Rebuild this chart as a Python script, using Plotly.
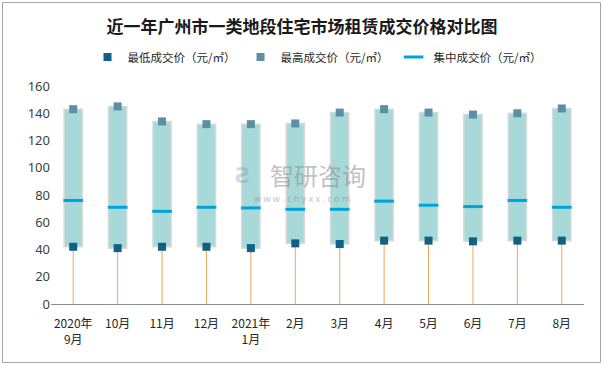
import plotly.graph_objects as go

categories = ["2020年<br>9月", "10月", "11月", "12月", "2021年<br>1月", "2月", "3月", "4月", "5月", "6月", "7月", "8月"]
low_prices = [42, 41, 42, 42, 41, 44.5, 44, 46.5, 46.5, 46, 46.5, 46.5]
high_prices = [143, 145, 134, 132, 132, 132.5, 140.5, 143, 140.5, 139, 140, 143.5]
mid_prices = [76, 71, 68, 71, 70.5, 69.5, 69.5, 75.5, 72.5, 71.5, 76, 71]

W, H = 604, 366
L, R, T, B = 51, 20, 86, 62
pw, ph = W - L - R, H - T - B

fig = go.Figure()

# drop lines from 0 to low
dx, dy = [], []
for c, lo in zip(categories, low_prices):
    dx += [c, c, None]
    dy += [0, lo, None]
fig.add_trace(go.Scatter(x=dx, y=dy, mode="lines", line=dict(color="#F4A460", width=1),
                         showlegend=False, hoverinfo="skip"))

# range boxes
fig.add_trace(go.Bar(x=categories, y=[h - l for h, l in zip(high_prices, low_prices)], base=low_prices,
                     width=0.41, marker=dict(color="#A6D9D7", line=dict(color="#D9D9D9", width=1.5)),
                     showlegend=False, hoverinfo="skip"))

fig.add_trace(go.Scatter(x=categories, y=low_prices, mode="markers", name="最低成交价（元/㎡）",
                         marker=dict(symbol="square", size=8, color="#0E6384")))
fig.add_trace(go.Scatter(x=categories, y=high_prices, mode="markers", name="最高成交价（元/㎡）",
                         marker=dict(symbol="square", size=8, color="#5B8FA6")))
fig.add_trace(go.Scatter(x=categories, y=mid_prices, mode="markers", name="集中成交价（元/㎡）",
                         marker=dict(symbol="line-ew", size=14, color="#00A3DC",
                                     line=dict(color="#00A3DC", width=3))))

def px_x(p):
    return (p - L) / pw

def px_y(p):
    return (H - B - p) / ph

fig.add_shape(type="rect", xref="paper", yref="paper", x0=px_x(2.5), x1=px_x(600.5), y0=px_y(362.5), y1=px_y(2.5),
              line=dict(color="#A6A6A6", width=1), layer="below")

# watermark
fig.add_annotation(xref="paper", yref="paper", x=px_x(318), y=px_y(174), text="智研咨询", showarrow=False,
                   font=dict(size=24, color="rgba(140,140,140,0.55)", family="Noto Sans CJK SC"))
fig.add_annotation(xref="paper", yref="paper", x=px_x(302), y=px_y(198), text="w w w . c h y x x . c o m", showarrow=False,
                   font=dict(size=9, color="rgba(140,140,140,0.55)", family="Noto Sans"))
fig.add_annotation(xref="paper", yref="paper", x=px_x(243), y=px_y(175), text="<b>Ƨ</b>", showarrow=False,
                   font=dict(size=22, color="rgba(120,150,200,0.35)", family="DejaVu Sans"))

fig.update_layout(
    width=W, height=H,
    margin=dict(l=L, r=R, t=T, b=B, autoexpand=False),
    paper_bgcolor="white", plot_bgcolor="white",
    title=dict(text="<b>近一年广州市一类地段住宅市场租赁成交价格对比图</b>", x=0.5, xanchor="center",
               y=1 - 27 / H, yanchor="middle",
               font=dict(size=17, color="#1a1a1a", family="Noto Sans CJK SC")),
    legend=dict(orientation="h", x=0.5, xanchor="center", y=1 + (T - 57) / ph, yanchor="middle",
                font=dict(size=11.5, color="#262626", family="Noto Sans CJK SC"), itemwidth=30,
                bgcolor="rgba(0,0,0,0)", traceorder="normal"),
    font=dict(family="Noto Sans CJK SC", color="#404040"),
    bargap=0.6,
)
fig.update_yaxes(range=[0, 160], dtick=20, showgrid=False, zeroline=False, showline=False, automargin=False,
                 tickfont=dict(size=13, color="#404040", family="Noto Sans"), ticks="", ticklen=0)
fig.update_xaxes(range=[-0.5, 11.5], showgrid=False, showline=True, linecolor="#8C8C8C", linewidth=1, ticks="",
                 automargin=False, ticklabelstandoff=9,
                 tickfont=dict(size=12, color="#262626", family="Noto Sans CJK SC"), tickangle=0)

fig.write_html("out.html", config={"displayModeBar": False},
               post_script="document.body.style.margin='0';")
